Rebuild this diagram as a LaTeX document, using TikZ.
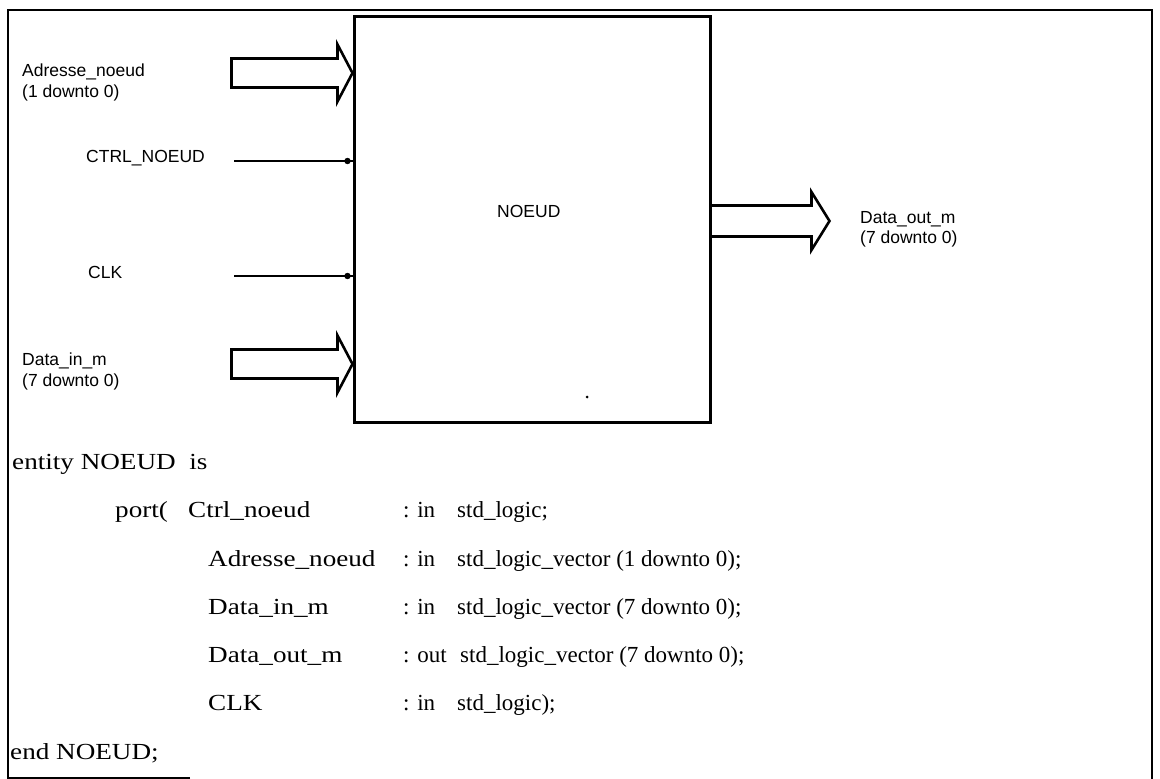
\documentclass[tikz,border=0pt]{standalone}
\usepackage{fontspec}
\setmainfont{Liberation Serif}
\setsansfont{Liberation Sans}
\usetikzlibrary{positioning}
\begin{document}
\begin{tikzpicture}[x=1pt,y=-1pt,
    lbl/.style={inner sep=0pt,anchor=base west,font=\sffamily\fontsize{17.5}{21}\selectfont},
    code/.style={inner sep=0pt,anchor=base west,font=\rmfamily\fontsize{23}{27}\selectfont},
    codew/.style={code,font=\rmfamily\fontsize{23}{27}\selectfont\addfontfeature{FakeStretch=1.18}},
    bus/.style={line width=2.6pt,line join=miter}]
  \useasboundingbox (0,0) rectangle (1160,779);
  % 外框
  \draw[line width=2.6pt] (190,778) -| (8,10) -| (1152,779);
  % 模块
  \node[draw,line width=3pt,minimum width=356,minimum height=406,inner sep=0pt] (noeud) at (532,219) {};
  \node[lbl] (nom) at (497,217) {NOEUD};
  \fill (587,397) circle (1.5);
  % 输入总线
  \coordinate (adrTip) at (noeud.west |- 0,73);
  \coordinate (dinTip) at (noeud.west |- 0,364);
  \foreach \t in {adrTip,dinTip}
    \draw[bus,shift={(\t)}] (0,0) -- (-15,-28.5) -- (-15,-14.5) -- (-121,-14.5)
      -- (-121,14.5) -- (-15,14.5) -- (-15,28.5) -- cycle;
  % 输出总线
  \coordinate (doutA) at (noeud.east |- 0,221);
  \draw[bus,shift={(doutA)}] (0,-15.5) -- (100,-15.5) -- (100,-29) -- (118,0)
    -- (100,29) -- (100,15.5) -- (0,15.5);
  % 单线信号
  \coordinate (ctrlA) at (234,161);
  \coordinate (clkA) at (234,276);
  \foreach \s in {ctrlA,clkA} {
    \draw[line width=2.4pt] (\s) -- (\s -| noeud.west);
    \fill (\s -| noeud.west) ++(-5,0) circle (3.2);
  }
  % 端口标注
  \node[lbl] (adr) at (22,76) {Adresse\_noeud};
  \node[lbl] (adrw) at (22,97) {(1 downto 0)};
  \node[lbl] (ctrl) at (86,162) {CTRL\_NOEUD};
  \node[lbl] (clk) at (88,278) {CLK};
  \node[lbl] (din) at (22,365) {Data\_in\_m};
  \node[lbl] (dinw) at (22,386) {(7 downto 0)};
  \node[lbl] (dout) at (860,223) {Data\_out\_m};
  \node[lbl] (doutw) at (860,243) {(7 downto 0)};
  % 实体声明
  \node[codew] (ent) at (12,469) {entity NOEUD\ \ is};
  \node[codew] (port) at (115,517) {port(};
  \node[codew] (p1) at (188,517) {Ctrl\_noeud};
  \foreach \n/\y in {Adresse\_noeud/566,Data\_in\_m/614,Data\_out\_m/662,CLK/710}
    \node[codew] at (208,\y) {\n};
  \foreach \m/\x/\ty/\y in {in/457/std\_logic;/517,
      in/457/std\_logic\_vector (1 downto 0);/566,
      in/457/std\_logic\_vector (7 downto 0);/614,
      out/460/std\_logic\_vector (7 downto 0);/662,
      in/457/std\_logic);/710} {
    \node[code] at (403,\y) {: \m};
    \node[code] at (\x,\y) {\ty};
  }
  \node[codew] (fin) at (10,759) {end NOEUD;};
\end{tikzpicture}
\end{document}
